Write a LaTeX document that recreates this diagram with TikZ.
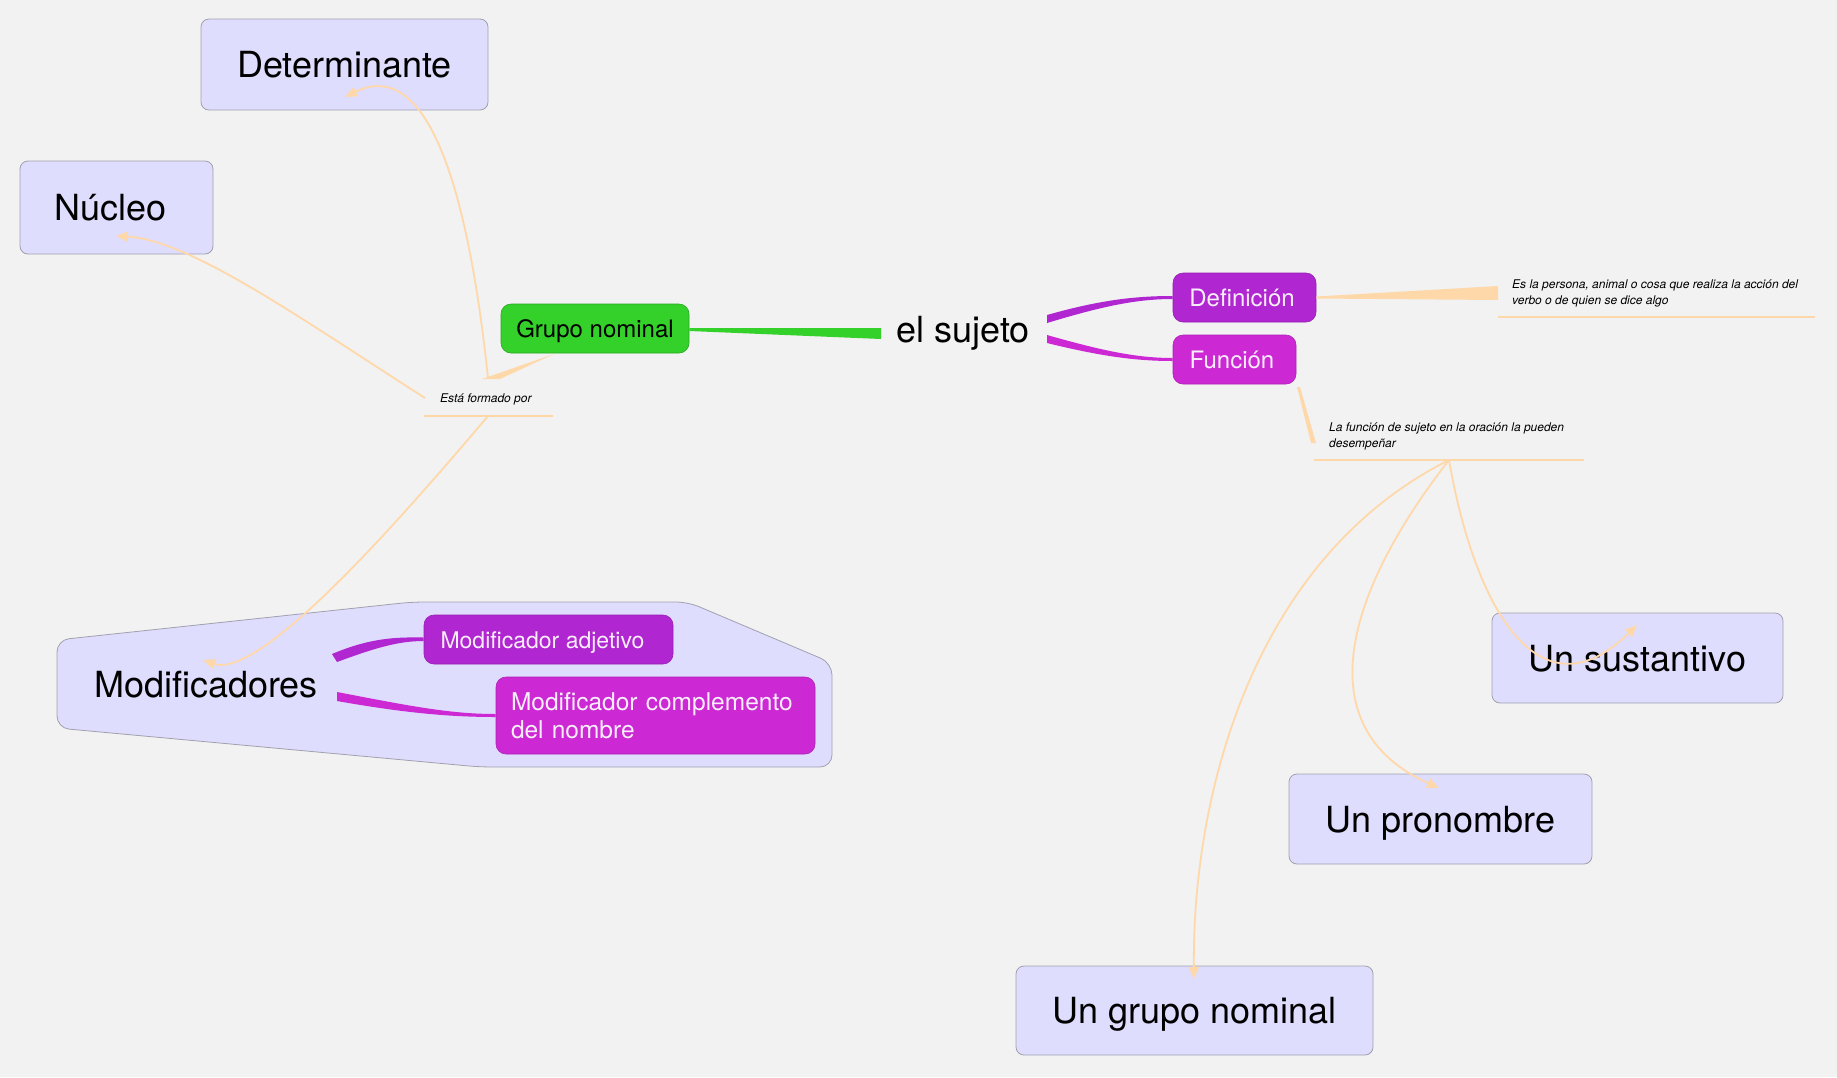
\documentclass[tikz,border=0pt]{standalone}
\usepackage{fontspec}
\setmainfont{TeX Gyre Heros}
\usetikzlibrary{arrows.meta,calc}
\definecolor{bg}{RGB}{242,242,242}
\definecolor{grn}{RGB}{51,209,41}
\definecolor{pur1}{RGB}{176,38,208}
\definecolor{pur2}{RGB}{204,40,212}
\definecolor{ptext}{RGB}{248,238,250}
\definecolor{peach}{RGB}{255,216,170}
\definecolor{boxfill}{RGB}{223,221,253}
\definecolor{boxline}{RGB}{160,160,175}
\begin{document}
\begin{tikzpicture}[x=1pt,y=-1pt,
  bigbox/.style={draw=boxline,fill=boxfill,rounded corners=8pt,line width=0.8pt,inner sep=0pt,text height=26pt,text depth=0pt,font=\fontsize{36}{43}\selectfont},
  smallbox/.style={rounded corners=10pt,inner sep=0pt,line width=0.6pt,text height=17pt,text depth=0pt,font=\fontsize{24}{29}\selectfont},
  note/.style={font=\fontsize{12}{16}\selectfont\itshape,align=left,inner sep=0pt,anchor=north west},
  bigtext/.style={font=\fontsize{36}{43}\selectfont,anchor=base,inner sep=0pt},
  link/.style={draw=peach,line width=1.8pt,-{Triangle[length=12pt,width=10pt]}},
  uline/.style={draw=peach,line width=2pt},
]
\useasboundingbox (0,0) rectangle (1837,1077);
\fill[bg] (0,0) rectangle (1837,1077);

% group frame for Modificadores
\draw[draw=boxline,fill=boxfill,line width=0.8pt,rounded corners=12pt]
  (57,640) -- (412,602) -- (688,602) -- (832,663) -- (832,767) -- (480,767) -- (57,728) -- cycle;

% nodes
\node[bigbox,minimum width=287pt,minimum height=91pt] (det) at (344.5,64.5) {Determinante};
\node[bigbox,minimum width=193pt,minimum height=93pt] (nuc) at (116.5,207.5) {Núcleo\hspace*{12pt}};
\node[smallbox,draw=grn!80!black,fill=grn,minimum width=188pt,minimum height=49pt] (gn) at (595,328.5) {Grupo nominal};
\node[bigtext] (suj) at (963,342) {el sujeto};
\node[smallbox,draw=pur1!85!black,fill=pur1,text=ptext,minimum width=143pt,minimum height=49pt] (def) at (1244.5,297.5) {Definición\hspace*{5pt}};
\node[smallbox,draw=pur2!85!black,fill=pur2,text=ptext,minimum width=123pt,minimum height=49pt] (fun) at (1234.5,359.5) {Función\hspace*{5pt}};
\node[note] (defn) at (1512,280) {Es la persona, animal o cosa que realiza la acción del\\verbo o de quien se dice algo};
\node[note] (funn) at (1329,423) {La función de sujeto en la oración la pueden\\desempeñar};
\node[note,anchor=base west] (form) at (440,402) {Está formado por};
\node[bigbox,minimum width=291pt,minimum height=90pt] (sust) at (1637.5,658) {Un sustantivo};
\node[bigbox,minimum width=303pt,minimum height=90pt] (pron) at (1440.5,819) {Un pronombre};
\node[bigbox,minimum width=357pt,minimum height=89pt] (ugn) at (1194.5,1010.5) {Un grupo nominal};
\node[bigtext] (mods) at (206,697) {Modificadores};
\node[smallbox,draw=pur1!85!black,fill=pur1,text=ptext,font=\fontsize{23}{28}\selectfont,minimum width=249pt,minimum height=49pt] (adj) at (548.5,639.5) {Modificador adjetivo\hspace*{12pt}};
\node[smallbox,draw=pur2!85!black,fill=pur2,text=ptext,font=\fontsize{24.5}{28}\selectfont,text height=,text depth=,minimum width=319pt,minimum height=77pt,align=left,text width=289pt] (comp) at (655.5,715.5) {Modificador complemento\\del nombre};

% underlines of link labels
\coordinate (defu1) at (1498,317); \coordinate (defu2) at (1815,317);
\coordinate (funu1) at (1314,460); \coordinate (funu2) at (1584,460);
\coordinate (funp) at (1449,460);
\coordinate (formu1) at (424,416); \coordinate (formu2) at (553,416);
\coordinate (formp) at (488,416);
\coordinate (formt) at (488,378);
\coordinate (forml) at (425,398);
\draw[uline] (defu1) -- (defu2);
\draw[uline] (funu1) -- (funu2);
\draw[uline] (formu1) -- (formu2);

% tapered branches
\fill[grn] ($(gn.east)+(0,-0.5)$) -- (881,328) -- (881,339) -- ($(gn.east)+(0,2.5)$) -- cycle;
\fill[pur1] (1047,315) .. controls (1100,300) and (1135,296) .. ($(def.west)+(0,-1.5)$) -- ($(def.west)+(0,1.5)$) .. controls (1135,299) and (1100,307) .. (1047,323) -- cycle;
\fill[pur2] (1047,335) .. controls (1100,350) and (1135,358) .. ($(fun.west)+(0,-1.5)$) -- ($(fun.west)+(0,1.5)$) .. controls (1135,361) and (1100,356) .. (1047,343) -- cycle;
\fill[pur1] (332,654) .. controls (370,638) and (395,637) .. ($(adj.west)+(0,-2)$) -- ($(adj.west)+(0,1.5)$) .. controls (398,641) and (375,648) .. (337,662) -- cycle;
\fill[pur2] (337,692) .. controls (410,706) and (450,714) .. ($(comp.west)+(0,-1.5)$) -- ($(comp.west)+(0,1.5)$) .. controls (450,717) and (405,713) .. (337,701) -- cycle;

% wedges to link labels
\fill[peach] ($(def.east)+(0,-1)$) -- (1498,286) -- (1498,300) -- ($(def.east)+(0,1)$) -- cycle;
\fill[peach] (1297,387) -- (1311,443) -- (1316,443) -- (1300,387) -- cycle;
\fill[peach] (554,354) -- (482,379) -- (500,379) -- cycle;

% links
\draw[link] (formt) .. controls (465,160) and (420,60) .. (345,97);
\draw[link] (forml) .. controls (300,318) and (190,240) .. (116,236);
\draw[link] (formp) .. controls (400,520) and (260,680) .. (203,660);
\draw[link] (funp) .. controls (1475,610) and (1540,720) .. (1637,625);
\draw[link] (funp) .. controls (1340,600) and (1310,730) .. (1439,788);
\draw[link] (funp) .. controls (1250,560) and (1192,800) .. (1194,979);
\end{tikzpicture}
\end{document}
